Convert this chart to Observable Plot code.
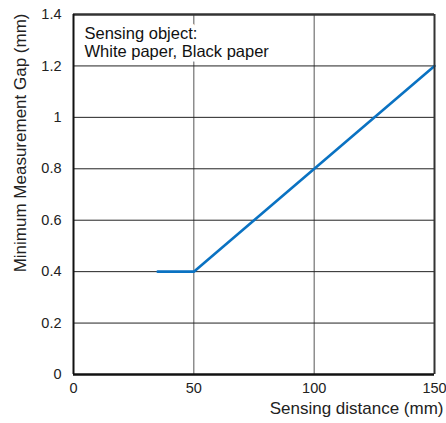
<!DOCTYPE html>
<html>
<head>
<meta charset="utf-8">
<script src="https://cdn.jsdelivr.net/npm/d3@7"></script>
<script src="https://cdn.jsdelivr.net/npm/@observablehq/plot@0.6"></script>
<style>
  body { margin: 0; background: #fff; }
  svg { font-family: "Liberation Sans", Arial, sans-serif; }
</style>
</head>
<body>
<div id="chart"></div>
<script>
const distance = [35, 50, 150];
const gap = [0.4, 0.4, 1.2];
const xTicks = [0, 50, 100, 150];
const yTicks = [0, 0.2, 0.4, 0.6, 0.8, 1, 1.2, 1.4];
const noteLines = ["Sensing object:", "White paper, Black paper"];
const xLabel = "Sensing distance (mm)";
const yLabel = "Minimum Measurement Gap (mm)";

const data = distance.map((d, i) => ({x: d, y: gap[i]}));

const chart = Plot.plot({
  width: 446,
  height: 423,
  marginLeft: 73,
  marginRight: 12,
  marginTop: 14,
  marginBottom: 49,
  style: {fontFamily: "Liberation Sans, Arial, sans-serif", color: "#222"},
  x: {domain: [0, 150]},
  y: {domain: [0, 1.4]},
  marks: [
    Plot.ruleX(xTicks.slice(1, -1), {stroke: "#555", strokeWidth: 1}),
    Plot.text([noteLines.join("\n")], {
      frameAnchor: "top-left", dx: 11, dy: 11.5, lineHeight: 1.1,
      fontSize: 16.5, fill: "#111", stroke: "white", strokeWidth: 9, textAnchor: "start"
    }),
    Plot.ruleY(yTicks.slice(1, -1), {stroke: "#222", strokeWidth: 1}),
    Plot.axisX({ticks: xTicks, tickSize: 0, tickPadding: 8, fontSize: 14.5, label: null}),
    Plot.axisY({ticks: yTicks, tickSize: 0, tickPadding: 12, fontSize: 14.5, label: null,
      tickFormat: d => String(d)}),
    Plot.text([xLabel], {frameAnchor: "bottom-right", dy: 39, dx: 9, textAnchor: "end",
      lineAnchor: "bottom", fontSize: 17, fill: "#222"}),
    Plot.text([yLabel], {frameAnchor: "top-left", rotate: -90, dx: -52.5, dy: -1, textAnchor: "end",
      lineAnchor: "middle", fontSize: 17, fill: "#222"}),
    Plot.line(data, {x: "x", y: "y", stroke: "#0a72c2", strokeWidth: 2.6}),
    Plot.ruleY([1.4], {stroke: "#333", strokeWidth: 2.5}),
    Plot.ruleX([150], {stroke: "#333", strokeWidth: 2}),
    Plot.ruleX([0], {stroke: "#111", strokeWidth: 2}),
    Plot.ruleY([0], {stroke: "#111", strokeWidth: 2.5})
  ]
});
document.getElementById("chart").appendChild(chart);
</script>
</body>
</html>
